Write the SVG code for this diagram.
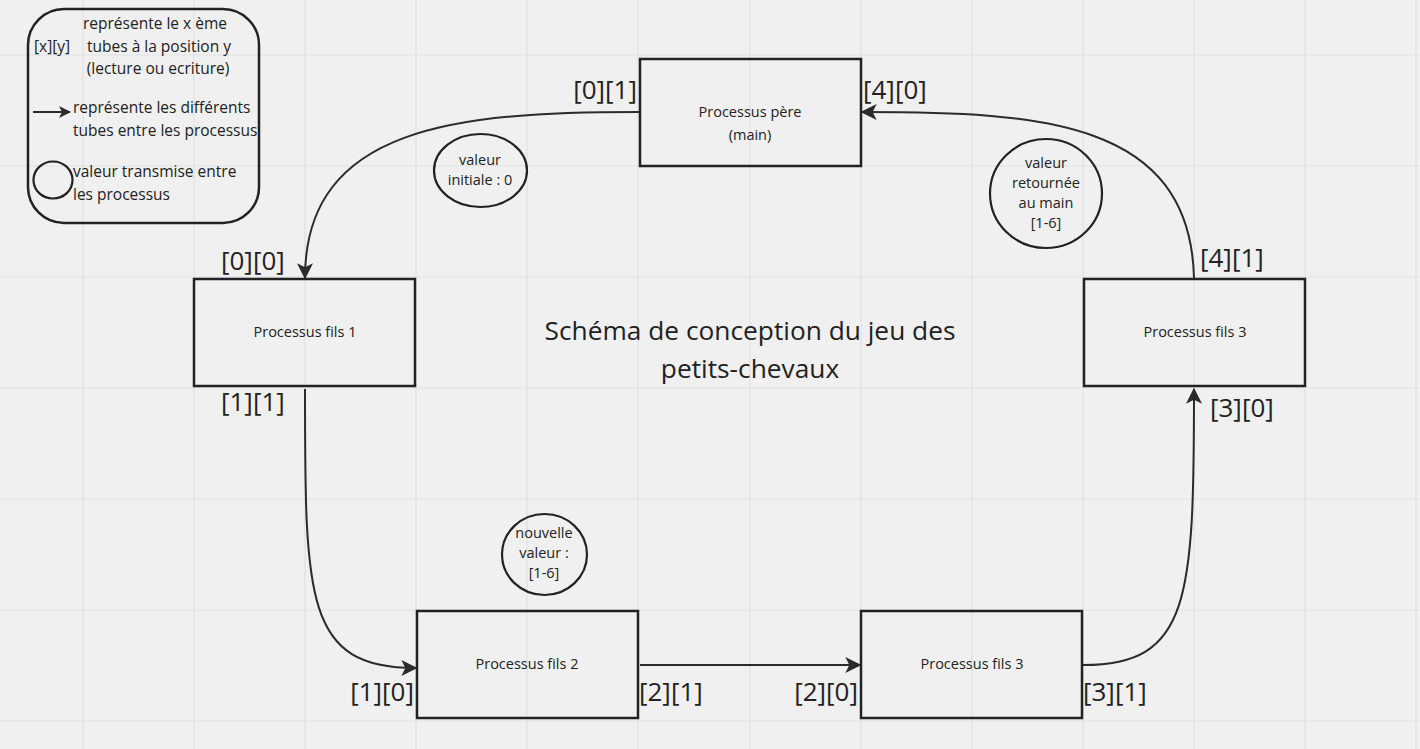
<svg xmlns="http://www.w3.org/2000/svg" width="1420" height="749" viewBox="0 0 1420 749">
<style>
text{font-family:"Open Sans","Noto Sans","DejaVu Sans",sans-serif;fill:#222}
.box{fill:none;stroke:#222;stroke-width:2.5}
.bub{fill:none;stroke:#222;stroke-width:2.2}
.node{font-size:14.5px;text-anchor:middle}
.lbl{font-size:26px}
.leg{font-size:15.5px}
.con{fill:none;stroke:#2b2b2b;stroke-width:2}
.grid{stroke:#e2e2e2;stroke-width:1.2}
</style>
<defs>
<marker id="ah" viewBox="0 0 12 12" refX="11" refY="6" markerWidth="12" markerHeight="12" markerUnits="userSpaceOnUse" orient="auto">
<path d="M0,0 L12,6 L0,12 L3,6 Z" fill="#2b2b2b"/>
</marker>
<marker id="ahb" viewBox="0 0 12 12" refX="11" refY="6" markerWidth="16" markerHeight="16" markerUnits="userSpaceOnUse" orient="auto">
<path d="M0,0 L12,6 L0,12 L3,6 Z" fill="#2b2b2b"/>
</marker>
</defs>
<rect width="1420" height="749" fill="#f0f0f0"/>
<g id="grid">
<path class="grid" d="M83,0V749M194,0V749M305,0V749M416,0V749M527,0V749M638,0V749M750,0V749M861,0V749M972,0V749M1083,0V749M1194,0V749M1305,0V749M1416,0V749M0,55H1420M0,166H1420M0,277H1420M0,388H1420M0,499H1420M0,610H1420M0,721H1420"/>
</g>
<g id="connectors">
<path class="con" d="M639,112 C460,112 305,125 305,278" marker-end="url(#ahb)"/>
<path class="con" d="M305,389 C305,600 305,668 416,668" marker-end="url(#ahb)"/>
<path class="con" d="M640,665 L860,665" marker-end="url(#ahb)"/>
<path class="con" d="M1083,665 C1190,665 1194,600 1194,389" marker-end="url(#ahb)"/>
<path class="con" d="M1194,278 C1190,120 1040,112 862,112" marker-end="url(#ahb)"/>
</g>
<g id="legend">
<rect x="28" y="9" width="231" height="214" rx="36" class="box"/>
<text class="leg" x="34" y="52">[x][y]</text>
<text class="leg" x="155" y="29" text-anchor="middle">représente le x ème</text>
<text class="leg" x="159" y="52" text-anchor="middle">tubes à la position y</text>
<text class="leg" x="158" y="74" text-anchor="middle">(lecture ou ecriture)</text>
<path class="con" d="M33,112 L70,112" stroke-width="2.5" marker-end="url(#ah)"/>
<text class="leg" x="73" y="113">représente les différents</text>
<text class="leg" x="73" y="136">tubes entre les processus</text>
<ellipse cx="53" cy="180" rx="19.5" ry="18.5" class="bub"/>
<text class="leg" x="73" y="177">valeur transmise entre</text>
<text class="leg" x="73" y="200">les processus</text>
</g>
<g id="pere">
<rect x="640" y="59" width="221" height="107" class="box"/>
<text class="node" x="750" y="117">Processus père</text>
<text class="node" x="750" y="140">(main)</text>
</g>
<g id="fils1">
<rect x="194" y="279" width="221" height="107" class="box"/>
<text class="node" x="305" y="337">Processus fils 1</text>
</g>
<g id="fils3a">
<rect x="1084" y="279" width="221" height="107" class="box"/>
<text class="node" x="1195" y="337">Processus fils 3</text>
</g>
<g id="fils2">
<rect x="417" y="611" width="221" height="107" class="box"/>
<text class="node" x="527" y="669">Processus fils 2</text>
</g>
<g id="fils3b">
<rect x="861" y="611" width="221" height="107" class="box"/>
<text class="node" x="972" y="669">Processus fils 3</text>
</g>
<g id="bulle1">
<ellipse cx="480.5" cy="170.5" rx="46.5" ry="36.5" class="bub"/>
<text class="node" x="480" y="165">valeur</text>
<text class="node" x="480" y="185">initiale : 0</text>
</g>
<g id="bulle2">
<ellipse cx="1046" cy="193.5" rx="56" ry="54.5" class="bub"/>
<text class="node" x="1046" y="168">valeur</text>
<text class="node" x="1046" y="188">retournée</text>
<text class="node" x="1046" y="208">au main</text>
<text class="node" x="1046" y="228">[1-6]</text>
</g>
<g id="bulle3">
<ellipse cx="544.5" cy="554.5" rx="42.5" ry="40.5" class="bub"/>
<text class="node" x="544" y="538">nouvelle</text>
<text class="node" x="544" y="558">valeur :</text>
<text class="node" x="544" y="578">[1-6]</text>
</g>
<g id="labels">
<text class="lbl" x="637" y="99" text-anchor="end">[0][1]</text>
<text class="lbl" x="863" y="99">[4][0]</text>
<text class="lbl" x="221" y="270">[0][0]</text>
<text class="lbl" x="221" y="411">[1][1]</text>
<text class="lbl" x="414" y="701" text-anchor="end">[1][0]</text>
<text class="lbl" x="639" y="701">[2][1]</text>
<text class="lbl" x="858" y="701" text-anchor="end">[2][0]</text>
<text class="lbl" x="1083" y="701">[3][1]</text>
<text class="lbl" x="1210" y="417">[3][0]</text>
<text class="lbl" x="1200" y="267">[4][1]</text>
</g>
<g id="title">
<text x="750" y="340" font-size="26.3" text-anchor="middle">Schéma de conception du jeu des</text>
<text x="750" y="378" font-size="26.3" text-anchor="middle">petits-chevaux</text>
</g>
</svg>
